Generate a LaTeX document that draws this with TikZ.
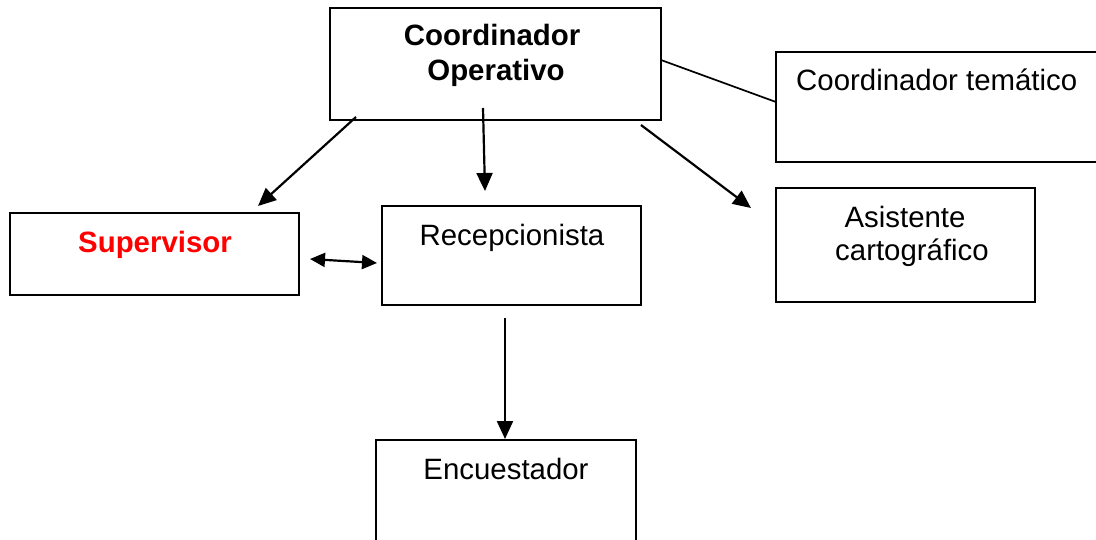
\documentclass[tikz,border=0pt]{standalone}
\usepackage{fontspec}
\setmainfont{Liberation Sans}
\usetikzlibrary{arrows.meta}
\definecolor{supred}{RGB}{255,0,0}
\begin{document}
\begin{tikzpicture}[x=1pt,y=-1pt,
  box/.style={draw=black,line width=2pt,fill=none},
  txt/.style={inner sep=0pt,anchor=base,font=\fontsize{29.4}{34}\selectfont},
  btxt/.style={txt,font=\fontsize{29.4}{34}\selectfont\bfseries},
  arr/.style={line width=2.2pt,-{Triangle[length=18pt,width=16pt]}},
  darr/.style={line width=2.2pt,{Triangle[length=15pt,width=14pt]}-{Triangle[length=15pt,width=14pt]}},
  conn/.style={line width=1.7pt}]
\useasboundingbox (0,0) rectangle (1096,539);
\clip (0,0) rectangle (1096,539);
\fill[white] (0,0) rectangle (1096,539);
% boxes
\draw[box] (330,8) rectangle (661,120);
\draw[box] (776,52) rectangle (1110,162);
\draw[box] (10,213) rectangle (299,295);
\draw[box] (382,206) rectangle (641,305);
\draw[box] (776,188) rectangle (1035,302);
\draw[box] (376,440) rectangle (636,560);
% texts
\node[btxt] (co1) at (492,45) {Coordinador};
\node[btxt] (co2) at (496,80) {Operativo};
\node[txt,anchor=base west] (ct) at (796,90) {Coordinador temático};
\node[btxt,text=supred] (sup) at (155,252) {Supervisor};
\node[txt] (rec) at (512,245) {Recepcionista};
\node[txt] (as1) at (905,227) {Asistente};
\node[txt] (as2) at (912,260) {cartográfico};
\node[txt] (enc) at (506,479) {Encuestador};
% connector endpoints
\coordinate (l1) at (661,60);
\coordinate (l2) at (776,102);
\coordinate (a1s) at (356,117);
\coordinate (a1e) at (258,206);
\coordinate (a2s) at (483,108);
\coordinate (a2e) at (485,191);
\coordinate (a3s) at (641,125);
\coordinate (a3e) at (751,208);
\coordinate (d1) at (310,259);
\coordinate (d2) at (377,263);
\coordinate (a4s) at (505,318);
\coordinate (a4e) at (505,439);
% connectors
\draw[conn] (l1) -- (l2);
\draw[arr] (a1s) -- (a1e);
\draw[arr] (a2s) -- (a2e);
\draw[arr] (a3s) -- (a3e);
\draw[darr] (d1) -- (d2);
\draw[arr] (a4s) -- (a4e);
\end{tikzpicture}
\end{document}
